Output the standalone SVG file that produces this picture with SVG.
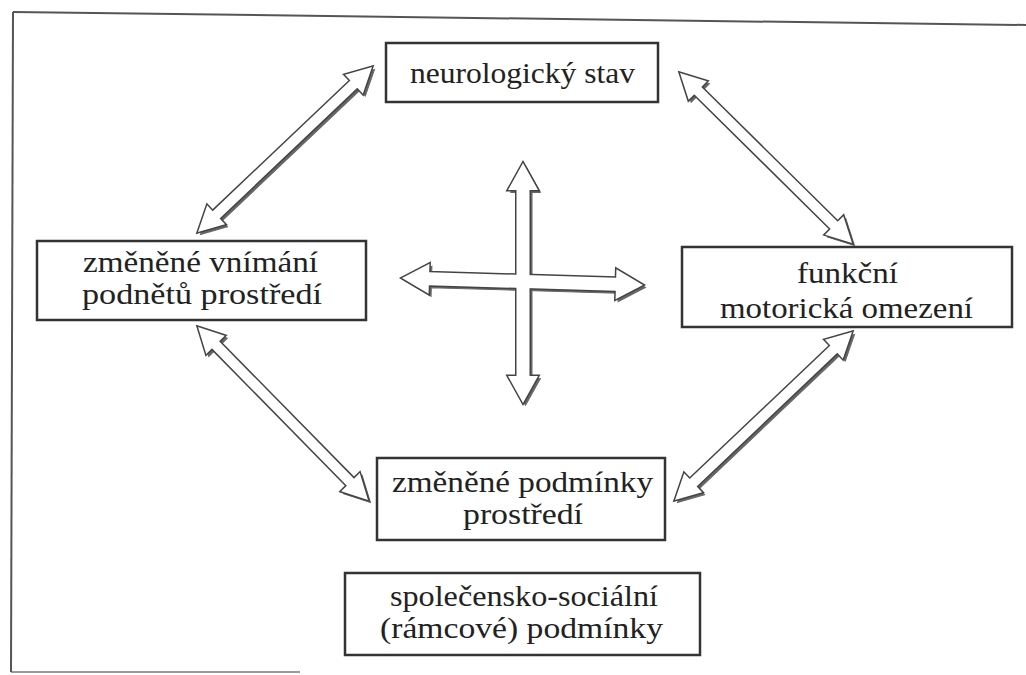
<svg xmlns="http://www.w3.org/2000/svg" xmlns:xlink="http://www.w3.org/1999/xlink" width="1026" height="675" viewBox="0 0 1026 675">
<style>
.frame{fill:none;stroke:#555;stroke-width:2}
.box{fill:#fff;stroke:#333;stroke-width:2.5}
.t{font-family:"Liberation Serif","DejaVu Serif",serif;font-size:28.5px;fill:#222;text-anchor:middle}
.sh{fill:#666;stroke:#666;stroke-width:1}
.st{fill:#fff;stroke:#444;stroke-width:3;stroke-linejoin:miter}
.fl{fill:#fff;stroke:none}
</style>
<defs>
<path id="pA1" d="M0,0 L25,-13 L25,-5 L214.8,-5 L214.8,-13 L239.8,0 L214.8,13 L214.8,5 L25,5 L25,13 Z" transform="translate(198,232) rotate(-43.48)"/>
<path id="pA2" d="M0,0 L25,-13 L25,-5 L216.8,-5 L216.8,-13 L241.8,0 L216.8,13 L216.8,5 L25,5 L25,13 Z" transform="translate(680,73) rotate(44.66)"/>
<path id="pA3" d="M0,0 L25,-13 L25,-5 L217.5,-5 L217.5,-13 L242.5,0 L217.5,13 L217.5,5 L25,5 L25,13 Z" transform="translate(198,327) rotate(45.5)"/>
<path id="pA4" d="M0,0 L25,-13 L25,-5 L219,-5 L219,-13 L244,0 L219,13 L219,5 L25,5 L25,13 Z" transform="translate(852,332) rotate(136.5)"/>
<path id="pV" d="M0,0 L27,-15 L27,-6.5 L213,-6.5 L213,-15 L240,0 L213,15 L213,6.5 L27,6.5 L27,15 Z" transform="translate(523,163) rotate(90)"/>
<path id="pH" d="M0,0 L27,-15 L27,-6.5 L214.1,-6.5 L214.1,-15 L241.1,0 L214.1,15 L214.1,6.5 L27,6.5 L27,15 Z" transform="translate(402,278) rotate(1.66)"/>
</defs>
<rect width="1026" height="675" fill="#fff"/>
<g id="frame">
<line class="frame" x1="13" y1="12" x2="1026" y2="25"/>
<line class="frame" x1="13" y1="12" x2="11" y2="672"/>
<line class="frame" x1="11" y1="672" x2="300" y2="672" stroke-opacity="0.6"/>
</g>
<g id="connectors">
<g transform="translate(2.5,2.5)">
<use xlink:href="#pA1" class="sh"/><use xlink:href="#pA2" class="sh"/><use xlink:href="#pA3" class="sh"/><use xlink:href="#pA4" class="sh"/><use xlink:href="#pV" class="sh"/><use xlink:href="#pH" class="sh"/>
</g>
<use xlink:href="#pA1" class="st"/><use xlink:href="#pA2" class="st"/><use xlink:href="#pA3" class="st"/><use xlink:href="#pA4" class="st"/><use xlink:href="#pV" class="st"/><use xlink:href="#pH" class="st"/>
<use xlink:href="#pA1" class="fl"/><use xlink:href="#pA2" class="fl"/><use xlink:href="#pA3" class="fl"/><use xlink:href="#pA4" class="fl"/><use xlink:href="#pV" class="fl"/><use xlink:href="#pH" class="fl"/>
</g>
<g id="n-neuro">
<rect class="box" x="386" y="43" width="272" height="59"/>
<text class="t" x="522.5" y="83" textLength="225" lengthAdjust="spacingAndGlyphs">neurologický stav</text>
</g>
<g id="n-vnimani">
<rect class="box" x="37" y="241" width="329" height="79"/>
<text class="t" x="200.5" y="272" textLength="235" lengthAdjust="spacingAndGlyphs">změněné vnímání</text>
<text class="t" x="202" y="304" textLength="240" lengthAdjust="spacingAndGlyphs">podnětů prostředí</text>
</g>
<g id="n-motor">
<rect class="box" x="682" y="247" width="330" height="80"/>
<text class="t" x="847.5" y="283" textLength="101" lengthAdjust="spacingAndGlyphs">funkční</text>
<text class="t" x="846.5" y="318" textLength="253" lengthAdjust="spacingAndGlyphs">motorická omezení</text>
</g>
<g id="n-podminky">
<rect class="box" x="377" y="458" width="288" height="82"/>
<text class="t" x="522.5" y="492" textLength="261" lengthAdjust="spacingAndGlyphs">změněné podmínky</text>
<text class="t" x="523" y="524" textLength="120" lengthAdjust="spacingAndGlyphs">prostředí</text>
</g>
<g id="n-spolecensko">
<rect class="box" x="345" y="573" width="355" height="82"/>
<text class="t" x="524" y="606" textLength="268" lengthAdjust="spacingAndGlyphs">společensko-sociální</text>
<text class="t" x="521.5" y="638" textLength="283" lengthAdjust="spacingAndGlyphs">(rámcové) podmínky</text>
</g>
</svg>
